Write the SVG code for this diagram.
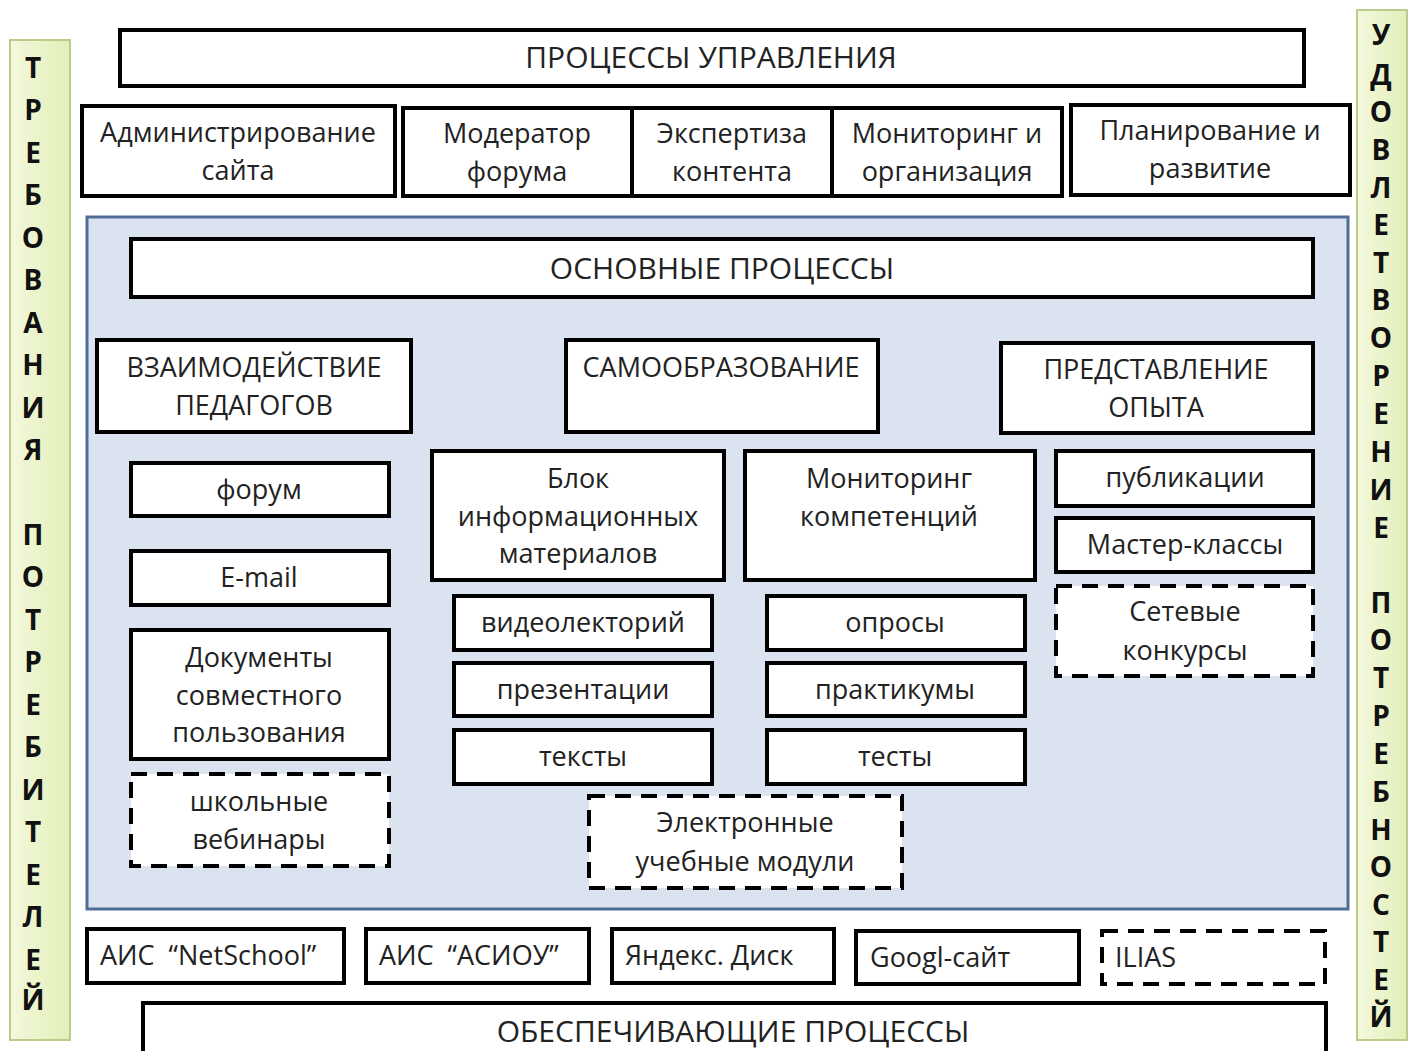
<svg xmlns="http://www.w3.org/2000/svg" width="1414" height="1051" viewBox="0 0 1414 1051">
<defs>
<linearGradient id="gbar" x1="0" y1="0" x2="1" y2="0">
<stop offset="0" stop-color="#f3f8dc"/>
<stop offset="1" stop-color="#e2efb8"/>
</linearGradient>
</defs>
<style>
.box{fill:#fff;stroke:#000;stroke-width:4}
.dash{stroke-dasharray:16 10}
.t{font-family:"Open Sans","Noto Sans",sans-serif;font-size:27px;fill:#222;text-anchor:middle}
.h{font-size:30px}
.l{text-anchor:start}
.side{font-family:"Open Sans","Noto Sans",sans-serif;font-size:28px;font-weight:bold;fill:#111;text-anchor:middle}
.bar{fill:url(#gbar);stroke:#b9cc8c;stroke-width:2}
</style>
<rect width="1414" height="1051" fill="#fff"/>

<g id="left-bar">
<rect class="bar" x="10" y="40" width="60" height="1000"/>
<text class="side" x="33">
<tspan x="33" y="78">Т</tspan><tspan x="33" y="120">Р</tspan><tspan x="33" y="163">Е</tspan><tspan x="33" y="205">Б</tspan><tspan x="33" y="248">О</tspan><tspan x="33" y="290">В</tspan><tspan x="33" y="333">А</tspan><tspan x="33" y="375">Н</tspan><tspan x="33" y="418">И</tspan><tspan x="33" y="460">Я</tspan><tspan x="33" y="545">П</tspan><tspan x="33" y="587">О</tspan><tspan x="33" y="630">Т</tspan><tspan x="33" y="672">Р</tspan><tspan x="33" y="715">Е</tspan><tspan x="33" y="757">Б</tspan><tspan x="33" y="800">И</tspan><tspan x="33" y="842">Т</tspan><tspan x="33" y="885">Е</tspan><tspan x="33" y="927">Л</tspan><tspan x="33" y="970">Е</tspan><tspan x="33" y="1010">Й</tspan>
</text>
</g>

<g id="right-bar">
<rect class="bar" x="1357" y="10" width="50" height="1030"/>
<text class="side">
<tspan x="1381" y="45">У</tspan><tspan x="1381" y="85">Д</tspan><tspan x="1381" y="122">О</tspan><tspan x="1381" y="160">В</tspan><tspan x="1381" y="198">Л</tspan><tspan x="1381" y="235">Е</tspan><tspan x="1381" y="273">Т</tspan><tspan x="1381" y="310">В</tspan><tspan x="1381" y="348">О</tspan><tspan x="1381" y="386">Р</tspan><tspan x="1381" y="424">Е</tspan><tspan x="1381" y="462">Н</tspan><tspan x="1381" y="500">И</tspan><tspan x="1381" y="538">Е</tspan><tspan x="1381" y="613">П</tspan><tspan x="1381" y="650">О</tspan><tspan x="1381" y="688">Т</tspan><tspan x="1381" y="726">Р</tspan><tspan x="1381" y="764">Е</tspan><tspan x="1381" y="802">Б</tspan><tspan x="1381" y="840">Н</tspan><tspan x="1381" y="877">О</tspan><tspan x="1381" y="915">С</tspan><tspan x="1381" y="952">Т</tspan><tspan x="1381" y="990">Е</tspan><tspan x="1381" y="1027">Й</tspan>
</text>
</g>

<g id="upravlenie">
<rect class="box" x="120" y="30" width="1184" height="56"/>
<text class="t h" x="711" y="68">ПРОЦЕССЫ УПРАВЛЕНИЯ</text>
</g>

<g id="admin">
<rect class="box" x="82" y="106" width="313" height="90"/>
<text class="t"><tspan x="238" y="142">Администрирование</tspan><tspan x="238" y="180">сайта</tspan></text>
</g>
<g id="moderator">
<rect class="box" x="403" y="108" width="229" height="88"/>
<text class="t"><tspan x="517" y="143">Модератор</tspan><tspan x="517" y="181">форума</tspan></text>
</g>
<g id="expertiza">
<rect class="box" x="632" y="108" width="200" height="88"/>
<text class="t"><tspan x="732" y="143">Экспертиза</tspan><tspan x="732" y="181">контента</tspan></text>
</g>
<g id="monitoring-org">
<rect class="box" x="832" y="108" width="230" height="88"/>
<text class="t"><tspan x="947" y="143">Мониторинг и</tspan><tspan x="947" y="181">организация</tspan></text>
</g>
<g id="planirovanie">
<rect class="box" x="1071" y="105" width="279" height="90"/>
<text class="t"><tspan x="1210" y="140">Планирование и</tspan><tspan x="1210" y="178">развитие</tspan></text>
</g>

<g id="main-panel">
<rect x="87" y="217" width="1261" height="692" fill="#dae3ef" stroke="#4f6d99" stroke-width="3"/>
</g>

<g id="osnovnye">
<rect class="box" x="131" y="239" width="1182" height="58"/>
<text class="t h" x="722" y="279">ОСНОВНЫЕ ПРОЦЕССЫ</text>
</g>

<g id="vzaimodeystvie">
<rect class="box" x="97" y="340" width="314" height="92"/>
<text class="t"><tspan x="254" y="377">ВЗАИМОДЕЙСТВИЕ</tspan><tspan x="254" y="415">ПЕДАГОГОВ</tspan></text>
</g>
<g id="samoobrazovanie">
<rect class="box" x="566" y="340" width="312" height="92"/>
<text class="t" x="721" y="377">САМООБРАЗОВАНИЕ</text>
</g>
<g id="predstavlenie">
<rect class="box" x="1001" y="343" width="312" height="90"/>
<text class="t"><tspan x="1156" y="379">ПРЕДСТАВЛЕНИЕ</tspan><tspan x="1156" y="417">ОПЫТА</tspan></text>
</g>

<g id="forum">
<rect class="box" x="131" y="463" width="258" height="53"/>
<text class="t" x="259" y="499">форум</text>
</g>
<g id="email">
<rect class="box" x="131" y="551" width="258" height="54"/>
<text class="t" x="259" y="587">E-mail</text>
</g>
<g id="dokumenty">
<rect class="box" x="131" y="630" width="258" height="129"/>
<text class="t"><tspan x="259" y="667">Документы</tspan><tspan x="259" y="705">совместного</tspan><tspan x="259" y="742">пользования</tspan></text>
</g>
<g id="vebinary">
<rect class="box dash" x="131" y="774" width="258" height="92"/>
<text class="t"><tspan x="259" y="811">школьные</tspan><tspan x="259" y="849">вебинары</tspan></text>
</g>

<g id="blok">
<rect class="box" x="432" y="451" width="292" height="129"/>
<text class="t"><tspan x="578" y="488">Блок</tspan><tspan x="578" y="526">информационных</tspan><tspan x="578" y="563">материалов</tspan></text>
</g>
<g id="videolektoriy">
<rect class="box" x="454" y="596" width="258" height="54"/>
<text class="t" x="583" y="632">видеолекторий</text>
</g>
<g id="prezentacii">
<rect class="box" x="454" y="663" width="258" height="53"/>
<text class="t" x="583" y="699">презентации</text>
</g>
<g id="teksty">
<rect class="box" x="454" y="730" width="258" height="54"/>
<text class="t" x="583" y="766">тексты</text>
</g>
<g id="elektronnye">
<rect class="box dash" x="589" y="796" width="313" height="92"/>
<text class="t"><tspan x="745" y="832">Электронные</tspan><tspan x="745" y="871">учебные модули</tspan></text>
</g>

<g id="monitoring-komp">
<rect class="box" x="745" y="451" width="290" height="129"/>
<text class="t"><tspan x="889" y="488">Мониторинг</tspan><tspan x="889" y="526">компетенций</tspan></text>
</g>
<g id="oprosy">
<rect class="box" x="767" y="596" width="258" height="54"/>
<text class="t" x="895" y="632">опросы</text>
</g>
<g id="praktikumy">
<rect class="box" x="767" y="663" width="258" height="53"/>
<text class="t" x="895" y="699">практикумы</text>
</g>
<g id="testy">
<rect class="box" x="767" y="730" width="258" height="54"/>
<text class="t" x="895" y="766">тесты</text>
</g>

<g id="publikacii">
<rect class="box" x="1056" y="451" width="257" height="55"/>
<text class="t" x="1185" y="487">публикации</text>
</g>
<g id="master">
<rect class="box" x="1056" y="518" width="257" height="54"/>
<text class="t" x="1185" y="554">Мастер-классы</text>
</g>
<g id="setevye">
<rect class="box dash" x="1056" y="586" width="257" height="90"/>
<text class="t"><tspan x="1185" y="621">Сетевые</tspan><tspan x="1185" y="660">конкурсы</tspan></text>
</g>

<g id="netschool">
<rect class="box" x="87" y="929" width="257" height="54"/>
<text class="t l" x="100" y="965">АИС&#160; “NetSchool”</text>
</g>
<g id="asiou">
<rect class="box" x="366" y="929" width="223" height="54"/>
<text class="t l" x="379" y="965">АИС&#160; “АСИОУ”</text>
</g>
<g id="yandex">
<rect class="box" x="612" y="929" width="222" height="54"/>
<text class="t l" x="625" y="965">Яндекс. Диск</text>
</g>
<g id="googl">
<rect class="box" x="856" y="931" width="223" height="53"/>
<text class="t l" x="870" y="967">Googl-сайт</text>
</g>
<g id="ilias">
<rect class="box dash" x="1102" y="931" width="223" height="53"/>
<text class="t l" x="1115" y="967">ILIAS</text>
</g>

<g id="obespechivayushchie">
<rect class="box" x="143" y="1003" width="1183" height="60"/>
<text class="t h" x="733" y="1042">ОБЕСПЕЧИВАЮЩИЕ ПРОЦЕССЫ</text>
</g>

<g id="connectors"></g>
</svg>
